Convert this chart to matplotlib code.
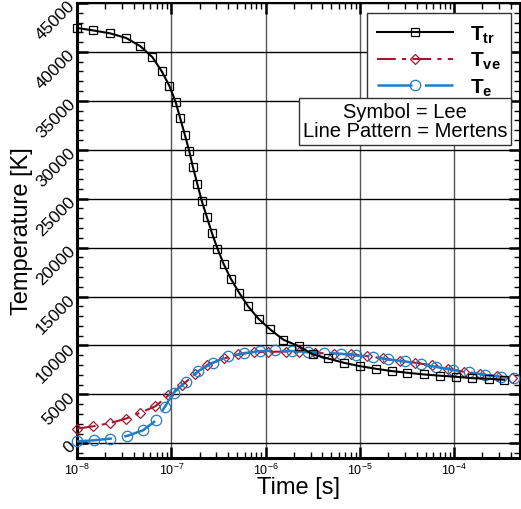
import matplotlib
matplotlib.use('Agg')
import matplotlib.pyplot as plt
from matplotlib.ticker import LogLocator, MultipleLocator, NullFormatter

plt.rcParams['font.family'] = ['Liberation Sans', 'DejaVu Sans']
plt.rcParams['mathtext.fontset'] = 'custom'
plt.rcParams['mathtext.rm'] = 'Liberation Sans'
plt.rcParams['mathtext.it'] = 'Liberation Sans:italic'
plt.rcParams['mathtext.bf'] = 'Liberation Sans:bold'

# T_tr (squares)
t_tr = [1.00e-8, 1.48e-8, 2.24e-8, 3.31e-8, 4.68e-8, 6.31e-8, 7.94e-8, 9.55e-8,
        1.11e-7, 1.24e-7, 1.39e-7, 1.55e-7, 1.70e-7, 1.89e-7, 2.10e-7, 2.38e-7,
        2.69e-7, 3.09e-7, 3.59e-7, 4.27e-7, 5.25e-7, 6.52e-7, 8.43e-7, 1.12e-6,
        1.55e-6, 2.24e-6, 3.20e-6, 4.60e-6, 6.76e-6, 1.00e-5, 1.48e-5, 2.19e-5,
        3.20e-5, 4.79e-5, 7.08e-5, 1.05e-4, 1.55e-4, 2.32e-4, 3.39e-4]
T_tr = [42450, 42200, 41900, 41430, 40600, 39460, 38000, 36530,
        34900, 33270, 31560, 29870, 28200, 26500, 24800, 23160,
        21530, 19900, 18340, 16840, 15380, 14010, 12720, 11640,
        10580, 9930, 9080, 8670, 8230, 7890, 7620, 7380,
        7210, 7040, 6910, 6800, 6660, 6600, 6500]

# T_ve (diamonds)
t_ve = [1.00e-8, 1.48e-8, 2.24e-8, 3.31e-8, 4.68e-8, 6.76e-8, 9.33e-8, 1.29e-7,
        1.78e-7, 2.40e-7, 3.63e-7, 5.13e-7, 7.59e-7, 1.07e-6, 1.66e-6, 2.29e-6,
        3.31e-6, 5.37e-6, 8.13e-6, 1.20e-5, 1.78e-5, 2.66e-5, 3.89e-5, 5.89e-5,
        8.71e-5, 1.26e-4, 1.86e-4, 2.82e-4, 4.07e-4]
T_ve = [1500, 1735, 2070, 2520, 3130, 3780, 4900, 5920,
        7040, 8000, 8670, 9080, 9330, 9350, 9380, 9350,
        9250, 9150, 9100, 8910, 8670, 8400, 8230, 7960,
        7620, 7310, 7040, 6870, 6660]

# T_e (circles)
t_e = [1.00e-8, 1.51e-8, 2.26e-8, 3.39e-8, 5.01e-8, 6.92e-8, 8.51e-8, 1.06e-7,
       1.43e-7, 1.91e-7, 2.75e-7, 3.98e-7, 5.89e-7, 8.65e-7, 1.27e-6, 1.91e-6,
       2.82e-6, 4.17e-6, 6.31e-6, 9.12e-6, 1.38e-5, 2.00e-5, 3.02e-5, 4.47e-5,
       6.46e-5, 9.77e-5, 1.45e-4, 2.14e-4, 3.16e-4, 4.37e-4]
T_e = [200, 306, 480, 750, 1330, 2350, 3700, 5170,
       6300, 7350, 8230, 8880, 9210, 9420, 9490, 9420,
       9350, 9250, 9150, 8980, 8810, 8570, 8370, 8100,
       7800, 7500, 7250, 7000, 6800, 6650]

red = '#a3182e'
blue = '#1f7cc6'

fig = plt.figure(figsize=(5.21, 5.10), dpi=100)
ax = fig.add_axes([77 / 521, 1 - 459 / 510, 443 / 521, 455 / 510])

ax.plot(t_tr, T_tr, color='black', lw=1.5, marker='s', ms=5.3, mfc='none',
        mec='black', mew=0.9, clip_on=False, zorder=5,
        label=r'$\mathbf{T}_{\mathbf{tr}}$')
ax.plot(t_ve, T_ve, color=red, lw=1.5, dashes=(9, 3, 2, 3), marker='D', ms=5.5,
        mfc='none', mec=red, mew=0.9, clip_on=False, zorder=4,
        label=r'$\mathbf{T}_{\mathbf{ve}}$')
ax.plot(t_e, T_e, color=blue, lw=1.8, dashes=(14, 5), marker='o', ms=7.5,
        mfc='none', mec=blue, mew=0.9, clip_on=False, zorder=4,
        label=r'$\mathbf{T}_{\mathbf{e}}$')

ax.set_xscale('log')
ax.set_xlim(1e-8, 5e-4)
ax.set_ylim(-1500, 45000)
ax.xaxis.set_major_locator(LogLocator(base=10, numticks=10))
ax.xaxis.set_minor_locator(LogLocator(base=10, subs=range(2, 10), numticks=20))
ax.xaxis.set_minor_formatter(NullFormatter())
ax.yaxis.set_major_locator(MultipleLocator(5000))
ax.yaxis.set_minor_locator(MultipleLocator(1000))

ax.grid(True, which='major', axis='x', color='#555555', lw=1.0)
ax.grid(True, which='major', axis='y', color='black', lw=1.0)
ax.set_axisbelow(True)

ax.tick_params(which='both', direction='in', top=True, right=True)
ax.tick_params(which='major', length=8, width=1.8)
ax.tick_params(which='minor', length=4, width=1.0)
ax.tick_params(axis='x', labelsize=9, pad=3)
ax.tick_params(axis='y', labelsize=12.5, pad=3)
for lab in ax.get_yticklabels():
    lab.set_rotation(45)
    lab.set_ha('right')
    lab.set_va('center')
    lab.set_rotation_mode('anchor')

for side in ['left', 'bottom']:
    ax.spines[side].set_linewidth(2.2)
for side in ['top', 'right']:
    ax.spines[side].set_linewidth(1.5)

ax.set_xlabel('Time [s]', fontsize=17)
ax.set_ylabel('Temperature [K]', fontsize=17)
ax.xaxis.set_label_coords(0.5, -0.04)
ax.yaxis.set_label_coords(-0.10, 0.5)

leg = ax.legend(loc='upper right', bbox_to_anchor=(0.9797, 0.978),
                borderaxespad=0, fontsize=15, handlelength=3.65,
                handletextpad=0.8, labelspacing=0.25, numpoints=1,
                borderpad=0.5, fancybox=False, framealpha=1,
                edgecolor='#333333')
leg.get_frame().set_linewidth(1.0)
leg.set_zorder(10)

ax.text(0.740, 0.7396, 'Symbol = Lee\nLine Pattern = Mertens', transform=ax.transAxes,
        ha='center', va='center', multialignment='center', fontsize=14.5,
        linespacing=1.0, zorder=11,
        bbox=dict(boxstyle='square,pad=0.2', fc='white', ec='#333333', lw=1.0))

fig.savefig('out.png', dpi=100)
